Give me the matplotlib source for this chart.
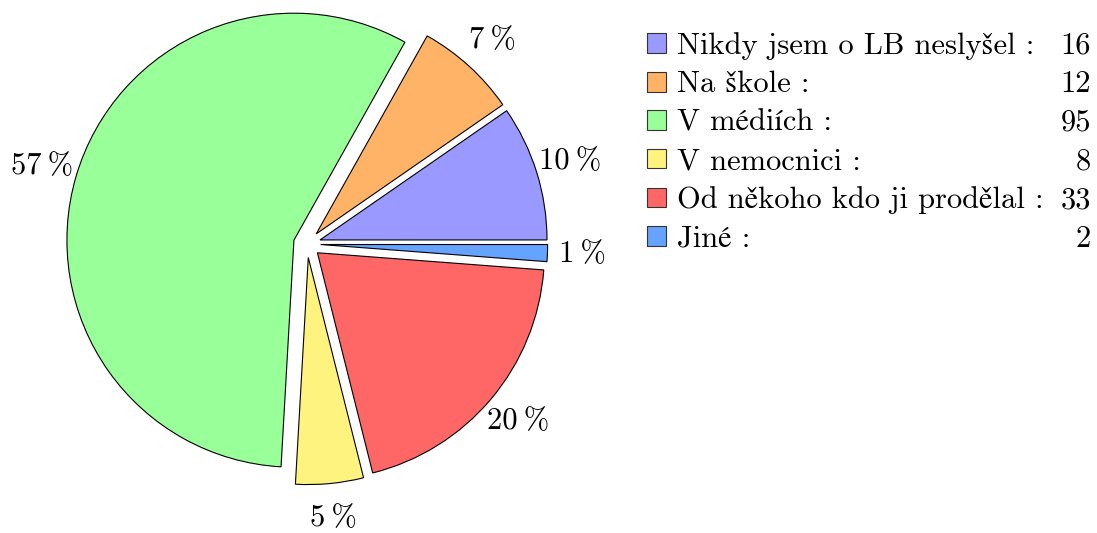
import matplotlib
matplotlib.use('Agg')
import matplotlib.pyplot as plt

labels = ['Nikdy jsem o LB neslyšel', 'Na škole', 'V médiích', 'V nemocnici',
          'Od někoho kdo ji prodělal', 'Jiné']
values = [16, 12, 95, 8, 33, 2]
colors = ['#9999ff', '#ffb366', '#99ff99', '#fff380', '#ff6666', '#66a3ff']

# cmr10 has no Czech letters; those fall back to STIX
plt.rcParams['font.family'] = ['cmr10', 'STIXGeneral', 'DejaVu Serif']
plt.rcParams['font.size'] = 22

fig = plt.figure(figsize=(10.97, 5.33), dpi=100)
# pie centre at (307, 289) px from bottom-left, radius 227 px
ax = fig.add_axes([0, 0, 620 / 1097, 1])

wedges, texts, autotexts = ax.pie(
    values, colors=colors, startangle=0, counterclock=True,
    explode=[0.06] * len(values),
    autopct=lambda p: f'{round(p)}\u2009%', pctdistance=1.155,
    wedgeprops=dict(edgecolor='black', linewidth=0.8))

ax.set_aspect('auto')
ax.set_xlim(-307 / 227, (620 - 307) / 227)
ax.set_ylim(-289 / 227, (533 - 289) / 227)

leg = fig.legend(wedges, [l + ' :' for l in labels], loc='upper left',
                 bbox_to_anchor=(647 / 1097, 1 - 32 / 533), frameon=False,
                 handlelength=0.62, handleheight=0.62, handletextpad=0.36,
                 labelspacing=0.36, borderaxespad=0, borderpad=0)
for h in leg.legend_handles:
    h.set_edgecolor('#333333')
    h.set_linewidth(0.8)

fig.canvas.draw()
inv = fig.transFigure.inverted()
for t, v in zip(leg.get_texts(), values):
    x0, y0 = t.get_transform().transform(t.get_position())
    y = inv.transform((0, y0))[1]
    fig.text(1091 / 1097, y, str(v), ha='right', va='baseline')

fig.savefig('out.png', dpi=100)
